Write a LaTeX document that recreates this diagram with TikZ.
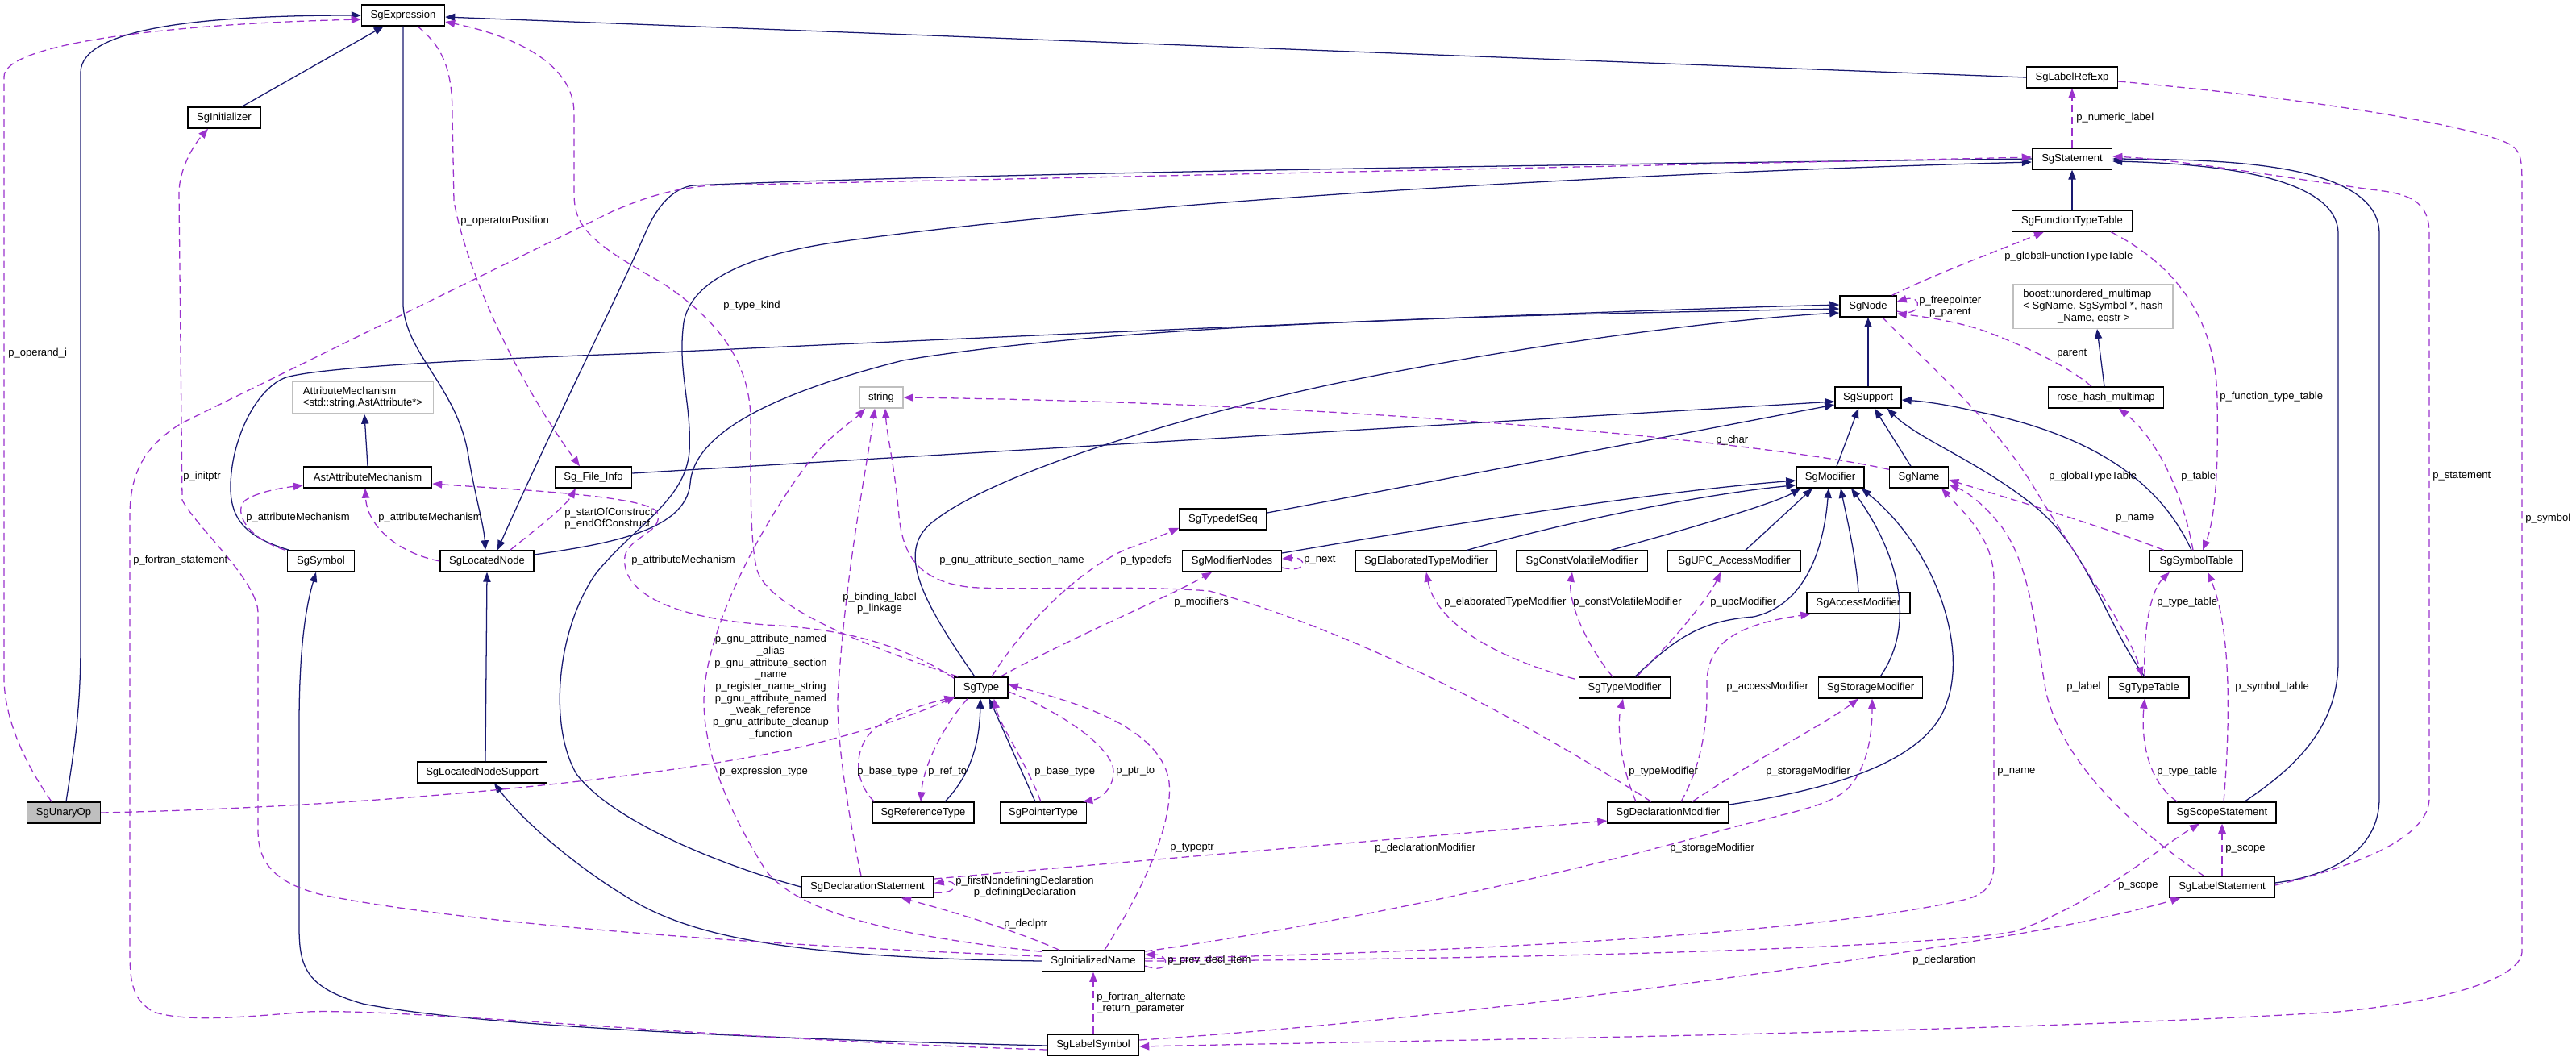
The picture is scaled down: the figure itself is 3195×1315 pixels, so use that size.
\documentclass[tikz,border=0pt]{standalone}
\usepackage{fontspec}
\setmainfont{Liberation Sans}
\usetikzlibrary{arrows.meta, calc}
\definecolor{navy}{HTML}{191970}
\definecolor{orchid}{HTML}{9A32CD}
\definecolor{boxgray}{HTML}{BFBFBF}
\newcommand\fnt{\fontsize{9.8pt}{11pt}\selectfont}

\begin{document}
\begin{tikzpicture}[x=0.75pt, y=-0.75pt,
  cls/.style={draw=black, fill=white, line width=1.1pt, minimum width=#1*0.75pt, minimum height=19.5pt, inner xsep=2pt, inner ysep=1pt, font=\fnt},
  ext/.style={cls=#1, draw=boxgray},
  focus/.style={cls=#1, fill=boxgray},
  inh/.style={navy, line width=0.95pt, -{Triangle[length=9pt, width=7pt]}},
  member/.style={orchid, line width=0.95pt, dash pattern=on 7pt off 4pt, -{Triangle[length=9pt, width=7pt]}},
  lbl/.style={font=\fnt, inner sep=0pt, anchor=west}]

\useasboundingbox (0,0) rectangle (3195,1315);

% classes
\node[focus=91] (unary) at (79,1008) {SgUnaryOp};
\node[cls=103] (expr) at (500,19) {SgExpression};
\node[cls=90] (init) at (278,146) {SgInitializer};
\node[ext=175, minimum height=30pt, align=left] (attrmech) at (450,493) {AttributeMechanism\\<std::string,AstAttribute*>};
\node[cls=159] (astattr) at (456,592) {AstAttributeMechanism};
\node[cls=95] (fileinfo) at (736,592) {Sg\_File\_Info};
\node[cls=83] (symbol) at (398,696) {SgSymbol};
\node[cls=116] (locnode) at (604,696) {SgLocatedNode};
\node[cls=161] (locsupp) at (598,958) {SgLocatedNodeSupport};
\node[ext=54] (string) at (1093,493) {string};
\node[cls=108] (typedefseq) at (1517,644) {SgTypedefSeq};
\node[cls=123] (modnodes) at (1528,696) {SgModifierNodes};
\node[cls=66] (type) at (1217,853) {SgType};
\node[cls=126] (reftype) at (1145,1008) {SgReferenceType};
\node[cls=107] (ptrtype) at (1294,1008) {SgPointerType};
\node[cls=164] (declstmt) at (1076,1100) {SgDeclarationStatement};
\node[cls=127] (initname) at (1356,1192) {SgInitializedName};
\node[cls=113] (labelsym) at (1356,1296) {SgLabelSymbol};
\node[cls=70] (sgnode) at (2317,380) {SgNode};
\node[cls=82] (support) at (2317,493) {SgSupport};
\node[cls=84] (modifier) at (2270,592) {SgModifier};
\node[cls=73] (name) at (2380,592) {SgName};
\node[cls=175] (elabmod) at (1769,696) {SgElaboratedTypeModifier};
\node[cls=163] (cvmod) at (1962,696) {SgConstVolatileModifier};
\node[cls=165] (upcmod) at (2151,696) {SgUPC\_AccessModifier};
\node[cls=128] (accmod) at (2305,748) {SgAccessModifier};
\node[cls=113] (typemod) at (2015,853) {SgTypeModifier};
\node[cls=129] (stormod) at (2320,853) {SgStorageModifier};
\node[cls=150] (declmod) at (2069,1008) {SgDeclarationModifier};
\node[cls=113] (labelref) at (2570,96) {SgLabelRefExp};
\node[cls=99] (stmt) at (2570,197) {SgStatement};
\node[cls=149] (functab) at (2570,274) {SgFunctionTypeTable};
\node[ext=198, minimum height=41pt, align=left] (boost) at (2596,380) {boost::unordered\_multimap\\< SgName, SgSymbol *, hash\\\hspace*{32pt}\_Name, eqstr >};
\node[cls=143] (rosehash) at (2612,493) {rose\_hash\_multimap};
\node[cls=115] (symtab) at (2724,696) {SgSymbolTable};
\node[cls=100] (typetab) at (2665,853) {SgTypeTable};
\node[cls=134] (scope) at (2756,1008) {SgScopeStatement};
\node[cls=130] (labelstmt) at (2756,1100) {SgLabelStatement};

% inheritance
\draw[inh] ($(unary.north)+(3,0)$) .. controls (92,930) and (100,880) .. (100,800) -- (100,90) .. controls (100,35) and (250,19) .. (expr.west);
\draw[inh] ($(init.north)+(22,0)$) -- ($(expr.south west)+(28,0)$);
\draw[inh] (expr.south) -- (500,380) .. controls (505,440) and (565,480) .. (580,560) .. controls (590,620) and (600,650) .. ($(locnode.north)+(-2,0)$);
\draw[inh] (stmt.west) .. controls (2000,203) and (1200,215) .. (860,230) .. controls (835,233) and (815,255) .. (800,290) .. controls (760,380) and (680,540) .. ($(locnode.north)+(13,0)$);
\draw[inh] (labelref.west) -- ($(expr.east)+(0,2)$);
\draw[inh] (functab.north) -- (stmt.south);
\draw[inh] (declstmt.west) .. controls (900,1075) and (760,1020) .. (715,960) .. controls (680,900) and (690,780) .. (740,710) .. controls (790,650) and (850,620) .. (855,560) .. controls (858,500) and (840,460) .. (848,400) .. controls (855,360) and (900,320) .. (1040,300) .. controls (1400,250) and (2000,215) .. ($(stmt.west)+(0,4)$);
\draw[inh] ($(locnode.east)+(0,-8)$) .. controls (750,675) and (850,660) .. (856,600) .. controls (860,540) and (950,490) .. (1120,447) .. controls (1400,400) and (1900,390) .. ($(sgnode.west)+(0,3)$);
\draw[inh] ($(symbol.north west)+(3,0)$) .. controls (300,665) and (285,640) .. (286,600) .. controls (288,540) and (320,480) .. (355,468) .. controls (400,455) and (600,445) .. (800,438) .. controls (1400,410) and (2000,385) .. ($(sgnode.west)+(0,-2)$);
\draw[inh] ($(type.north)+(-8,0)$) .. controls (1140,740) and (1110,680) .. (1160,645) .. controls (1230,590) and (1450,520) .. (1650,477) .. controls (1900,425) and (2150,395) .. ($(sgnode.west)+(0,8)$);
\draw[inh] ($(fileinfo.east)+(0,-5)$) -- ($(support.west)+(0,5)$);
\draw[inh] ($(typedefseq.east)+(0,-8)$) -- ($(support.west)+(0,9)$);
\draw[inh] ($(modnodes.east)+(0,-10)$) .. controls (1800,650) and (2050,610) .. ($(modifier.west)+(0,4)$);
\draw[inh] ($(elabmod.north)+(51,0)$) .. controls (1950,645) and (2120,612) .. ($(modifier.south west)+(0,-4)$);
\draw[inh] ($(cvmod.north)+(36,0)$) .. controls (2080,660) and (2200,625) .. ($(modifier.south west)+(6,0)$);
\draw[inh] ($(upcmod.north)+(14,0)$) -- ($(modifier.south)+(-22,0)$);
\draw[inh] (accmod.north) .. controls (2302,690) and (2290,640) .. ($(modifier.south)+(13,0)$);
\draw[inh] ($(typemod.north)+(13,0)$) .. controls (2080,790) and (2110,770) .. (2175,765) .. controls (2240,750) and (2262,680) .. ($(modifier.south)+(-2,0)$);
\draw[inh] ($(stormod.north)+(12,0)$) .. controls (2380,770) and (2350,680) .. ($(modifier.south)+(26,0)$);
\draw[inh] ($(declmod.east)+(0,-10)$) .. controls (2300,975) and (2395,935) .. (2415,870) .. controls (2440,800) and (2400,680) .. ($(modifier.south east)+(-4,0)$);
\draw[inh] ($(modifier.north)+(8,0)$) -- ($(support.south)+(-12,0)$);
\draw[inh] ($(name.north)+(-10,0)$) -- ($(support.south)+(8,0)$);
\draw[inh] ($(symtab.north)+(-6,0)$) .. controls (2680,600) and (2600,540) .. (2450,510) .. controls (2420,503) and (2390,498) .. ($(support.east)+(0,3)$);
\draw[inh] ($(typetab.north)+(-5,0)$) .. controls (2610,770) and (2590,680) .. (2520,625) .. controls (2450,570) and (2380,545) .. ($(support.south east)+(-18,0)$);
\draw[inh] (support.north) -- (sgnode.south);
\draw[inh] (astattr.north) -- ($(attrmech.south)+(2,0)$);
\draw[inh] ($(rosehash.north)+(-2,0)$) -- ($(boost.south)+(5,0)$);
\draw[inh] ($(reftype.north)+(27,0)$) .. controls (1205,960) and (1215,920) .. ($(type.south)+(-1,0)$);
\draw[inh] ($(ptrtype.north)+(-10,0)$) -- ($(type.south)+(10,0)$);
\draw[inh] ($(labelsym.west)+(0,1)$) .. controls (1000,1290) and (600,1275) .. (450,1245) .. controls (380,1225) and (371,1200) .. (371,1150) -- (371,900) .. controls (371,800) and (380,750) .. ($(symbol.south)+(-6,0)$);
\draw[inh] ($(locsupp.north)+(4,0)$) -- (locnode.south);
\draw[inh] (initname.west) .. controls (1000,1188) and (870,1165) .. (790,1120) .. controls (720,1080) and (650,1020) .. ($(locsupp.south)+(15,0)$);
\draw[inh] ($(scope.north east)+(-40,0)$) .. controls (2850,950) and (2900,900) .. (2900,820) -- (2900,290) .. controls (2900,220) and (2750,203) .. ($(stmt.east)+(0,3)$);
\draw[inh] ($(labelstmt.east)+(0,-5)$) .. controls (2900,1085) and (2951,1050) .. (2951,990) -- (2951,290) .. controls (2951,200) and (2750,198) .. (stmt.east);

% members
\draw[member] ($(unary.north)+(-15,0)$) .. controls (40,960) and (5,900) .. (5,840) -- (5,95) .. controls (5,55) and (200,30) .. ($(expr.west)+(0,5)$);
\draw[member] (unary.east) .. controls (500,1000) and (850,960) .. (1000,925) .. controls (1100,900) and (1150,880) .. ($(type.south west)+(2,-3)$);
\draw[member] ($(expr.south)+(18,0)$) .. controls (545,55) and (561,80) .. (561,140) -- (563,250) .. controls (580,340) and (640,470) .. ($(fileinfo.north)+(-17,0)$);
\draw[member] ($(locnode.north east)+(-30,0)$) .. controls (660,660) and (700,630) .. ($(fileinfo.south)+(-22,0)$);
\draw[member] (locnode.west) .. controls (490,685) and (455,650) .. ($(astattr.south)+(-3,0)$);
\draw[member] ($(symbol.north west)+(-2,0)$) .. controls (300,665) and (290,630) .. (305,620) .. controls (320,610) and (350,605) .. ($(astattr.west)+(0,10)$);
\draw[member] ($(type.north west)+(0,2)$) .. controls (1120,800) and (1050,780) .. (950,775) .. controls (820,765) and (770,730) .. (775,690) .. controls (780,665) and (825,660) .. (815,635) .. controls (800,615) and (650,608) .. ($(astattr.east)+(0,8)$);
\draw[member] ($(initname.west)+(0,-6)$) .. controls (1000,1175) and (600,1150) .. (400,1110) .. controls (340,1095) and (320,1070) .. (320,1030) -- (320,760) .. controls (320,720) and (240,650) .. (226,620) -- (222,240) .. controls (222,210) and (240,180) .. ($(init.south)+(-20,0)$);
\draw[member] ($(labelsym.west)+(0,6)$) .. controls (900,1290) and (500,1250) .. (380,1255) .. controls (300,1262) and (230,1268) .. (190,1255) .. controls (165,1240) and (161,1220) .. (161,1180) -- (161,640) .. controls (161,580) and (185,550) .. (225,525) -- (760,262) .. controls (800,245) and (830,235) .. (880,230) -- ($(stmt.west)+(0,-2)$);
\draw[member] ($(type.north west)+(5,0)$) .. controls (1100,810) and (960,760) .. (940,710) .. controls (930,680) and (931,600) .. (931,520) .. controls (930,440) and (880,390) .. (820,350) .. controls (730,300) and (712,280) .. (712,240) -- (712,140) .. controls (712,80) and (640,45) .. ($(expr.east)+(0,8)$);
\draw[member] ($(sgnode.east)+(0,6)$) .. controls (2385,395) and (2385,365) .. ($(sgnode.east)+(0,-6)$);
\draw[member] ($(sgnode.north east)+(-6,0)$) .. controls (2400,340) and (2480,310) .. ($(functab.south)+(-35,0)$);
\draw[member] ($(sgnode.south east)+(-18,0)$) .. controls (2400,460) and (2470,520) .. (2520,600) .. controls (2580,700) and (2640,780) .. ($(typetab.north)+(-8,0)$);
\draw[member] ($(rosehash.north)+(-18,0)$) .. controls (2560,450) and (2500,425) .. (2460,410) .. controls (2420,397) and (2380,392) .. ($(sgnode.east)+(0,9)$);
\draw[member] ($(symtab.north)+(-4,0)$) .. controls (2705,600) and (2670,540) .. ($(rosehash.south)+(16,0)$);
\draw[member] ($(functab.south east)+(-27,0)$) .. controls (2720,340) and (2750,420) .. (2750,500) .. controls (2752,600) and (2745,650) .. ($(symtab.north)+(8,0)$);
\draw[member] ($(typetab.north)+(-5,0)$) .. controls (2658,770) and (2670,730) .. ($(symtab.south west)+(25,0)$);
\draw[member] ($(scope.north)+(2,0)$) .. controls (2766,900) and (2768,780) .. ($(symtab.south)+(14,0)$);
\draw[member] ($(scope.north west)+(12,0)$) .. controls (2665,970) and (2655,920) .. ($(typetab.south)+(-5,0)$);
\draw[member] ($(symtab.north west)+(18,0)$) .. controls (2600,650) and (2480,615) .. ($(name.east)+(0,3)$);
\draw[member] ($(name.north west)+(0,4)$) .. controls (2200,550) and (1700,500) .. (string.east);
\draw[member] ($(declmod.north)+(-21,0)$) .. controls (1900,900) and (1700,790) .. (1500,733) .. controls (1400,725) and (1250,733) .. (1200,728) .. controls (1140,720) and (1120,690) .. (1115,640) .. controls (1110,580) and (1100,540) .. ($(string.south)+(5,0)$);
\draw[member] ($(initname.north west)+(0,2)$) .. controls (1100,1160) and (990,1130) .. (950,1080) .. controls (900,1000) and (873,930) .. (873,870) .. controls (873,780) and (950,640) .. (1008,567) .. controls (1030,540) and (1060,520) .. ($(string.south)+(-20,0)$);
\draw[member] ($(declstmt.north)+(-8,0)$) .. controls (1050,1000) and (1035,900) .. (1040,850) .. controls (1050,700) and (1075,580) .. ($(string.south)+(-8,0)$);
\draw[member] ($(type.north)+(13,0)$) .. controls (1280,760) and (1350,700) .. (1400,680) .. controls (1430,670) and (1450,660) .. ($(typedefseq.south west)+(0,-3)$);
\draw[member] ($(type.north east)+(-10,0)$) .. controls (1330,790) and (1450,740) .. ($(modnodes.south)+(-25,0)$);
\draw[member] ($(modnodes.east)+(0,8)$) .. controls (1622,712) and (1622,690) .. ($(modnodes.east)+(0,-3)$);
\draw[member] ($(reftype.north west)+(3,0)$) .. controls (1055,965) and (1060,920) .. (1090,900) .. controls (1120,880) and (1160,870) .. ($(type.south west)+(0,-2)$);
\draw[member] ($(type.south)+(-17,0)$) .. controls (1170,900) and (1145,950) .. ($(reftype.north)+(-3,0)$);
\draw[member] ($(ptrtype.north)+(-3,0)$) .. controls (1270,940) and (1240,900) .. ($(type.south east)+(-18,0)$);
\draw[member] ($(type.east)+(0,5)$) .. controls (1310,880) and (1370,920) .. (1380,950) .. controls (1385,970) and (1370,990) .. ($(ptrtype.north east)+(-5,0)$);
\draw[member] ($(initname.north)+(14,0)$) .. controls (1420,1100) and (1455,1020) .. (1450,970) .. controls (1440,900) and (1330,870) .. ($(type.east)+(0,-4)$);
\draw[member] ($(declstmt.east)+(0,7)$) .. controls (1190,1110) and (1190,1090) .. ($(declstmt.east)+(0,-4)$);
\draw[member] ($(initname.north west)+(22,0)$) .. controls (1250,1150) and (1160,1125) .. ($(declstmt.south)+(42,0)$);
\draw[member] ($(initname.east)+(0,6)$) .. controls (1452,1210) and (1452,1184) .. ($(initname.east)+(0,-8)$);
\draw[member] (labelsym.north) -- (initname.south);
\draw[member] ($(declmod.north)+(-40,0)$) .. controls (2010,950) and (2005,900) .. ($(typemod.south)+(-2,0)$);
\draw[member] ($(declmod.north)+(16,0)$) .. controls (2110,950) and (2118,900) .. (2117,850) .. controls (2116,800) and (2150,775) .. ($(accmod.south west)+(5,0)$);
\draw[member] ($(declmod.north)+(30,0)$) .. controls (2180,940) and (2260,900) .. ($(stormod.south)+(-15,0)$);
\draw[member] ($(initname.east)+(0,-12)$) .. controls (1700,1140) and (1950,1080) .. (2100,1040) .. controls (2200,1010) and (2260,1005) .. (2290,980) .. controls (2320,950) and (2322,900) .. ($(stormod.south)+(2,0)$);
\draw[member] ($(declstmt.east)+(0,-10)$) .. controls (1500,1060) and (1800,1035) .. ($(declmod.west)+(0,10)$);
\draw[member] ($(typemod.north west)+(-4,3)$) .. controls (1850,815) and (1780,770) .. (elabmod.south);
\draw[member] ($(typemod.north)+(-15,0)$) .. controls (1960,790) and (1945,740) .. ($(cvmod.south)+(-12,0)$);
\draw[member] ($(typemod.north)+(15,0)$) .. controls (2080,790) and (2120,740) .. ($(upcmod.south)+(-17,0)$);
\draw[member] ($(initname.east)+(0,-3)$) .. controls (1900,1180) and (2300,1150) .. (2440,1115) .. controls (2465,1108) and (2473,1095) .. (2473,1070) -- (2473,720) .. controls (2473,670) and (2440,640) .. ($(name.south)+(28,0)$);
\draw[member] (initname.east) .. controls (1900,1190) and (2400,1175) .. (2500,1155) .. controls (2600,1120) and (2680,1050) .. ($(scope.south)+(-28,0)$);
\draw[member] ($(labelsym.east)+(0,-6)$) .. controls (1800,1265) and (2250,1200) .. (2450,1167) .. controls (2560,1150) and (2650,1130) .. ($(labelstmt.south west)+(14,0)$);
\draw[member] ($(labelref.east)+(0,5)$) .. controls (2900,125) and (3080,160) .. (3115,180) .. controls (3128,190) and (3128,200) .. (3128,240) -- (3128,1180) .. controls (3128,1210) and (3050,1240) .. (2900,1255) .. controls (2500,1280) and (1800,1290) .. ($(labelsym.east)+(0,2)$);
\draw[member] ($(labelstmt.east)+(0,-2)$) .. controls (2920,1075) and (3013,1040) .. (3013,990) -- (3013,290) .. controls (3013,250) and (2990,240) .. (2940,235) .. controls (2800,215) and (2700,198) .. ($(stmt.east)+(0,-3)$);
\draw[member] (stmt.north) -- (labelref.south);
\draw[member] (labelstmt.north) -- (scope.south);
\draw[member] ($(labelstmt.north west)+(43,0)$) .. controls (2650,1030) and (2560,950) .. (2538,860) .. controls (2525,790) and (2520,700) .. (2480,650) .. controls (2460,625) and (2440,610) .. ($(name.east)+(0,9)$);

% edge labels
\node[lbl] (topd) at (10,438) {p\_operand\_i};
\node[lbl] (topp) at (571,274) {p\_operatorPosition};
\node[lbl] (tkind) at (897,379) {p\_type\_kind};
\node[lbl] (tinit) at (227,591) {p\_initptr};
\node[lbl] (tfort) at (165,695) {p\_fortran\_statement};
\node[lbl] (tam1) at (305,642) {p\_attributeMechanism};
\node[lbl] (tam2) at (469,642) {p\_attributeMechanism};
\node[lbl] (tam3) at (783,695) {p\_attributeMechanism};
\node[lbl, align=left] (tcons) at (700,643) {p\_startOfConstruct\\p\_endOfConstruct};
\node[lbl] (tsect) at (1165,695) {p\_gnu\_attribute\_section\_name};
\node[lbl] (ttdef) at (1389,695) {p\_typedefs};
\node[lbl, align=center] (tbind) at (1045,748) {p\_binding\_label\\p\_linkage};
\node[lbl] (tmods) at (1456,747) {p\_modifiers};
\node[lbl, align=center, anchor=north] (tgnu) at (956,787) {p\_gnu\_attribute\_named\\\_alias\\p\_gnu\_attribute\_section\\\_name\\p\_register\_name\_string\\p\_gnu\_attribute\_named\\\_weak\_reference\\p\_gnu\_attribute\_cleanup\\\_function};
\node[lbl] (texpt) at (892,957) {p\_expression\_type};
\node[lbl] (tbas1) at (1063,957) {p\_base\_type};
\node[lbl] (tref) at (1151,957) {p\_ref\_to};
\node[lbl] (tbas2) at (1283,957) {p\_base\_type};
\node[lbl] (tptr) at (1384,957) {p\_ptr\_to};
\node[lbl] (ttptr) at (1451,1052) {p\_typeptr};
\node[lbl, align=center] (tdecl) at (1185,1100) {p\_firstNondefiningDeclaration\\p\_definingDeclaration};
\node[lbl] (tdptr) at (1245,1146) {p\_declptr};
\node[lbl] (tprev) at (1448,1191) {p\_prev\_decl\_item};
\node[lbl, align=left] (talt) at (1360,1244) {p\_fortran\_alternate\\\_return\_parameter};
\node[lbl, align=center] (tfree) at (2380,380) {p\_freepointer\\p\_parent};
\node[lbl] (tchar) at (2128,546) {p\_char};
\node[lbl] (telab) at (1791,747) {p\_elaboratedTypeModifier};
\node[lbl] (tcv) at (1951,747) {p\_constVolatileModifier};
\node[lbl] (tupc) at (2121,747) {p\_upcModifier};
\node[lbl] (tacc) at (2141,852) {p\_accessModifier};
\node[lbl] (ttmod) at (2020,957) {p\_typeModifier};
\node[lbl] (tsto1) at (2190,957) {p\_storageModifier};
\node[lbl] (tdmod) at (1705,1052) {p\_declarationModifier};
\node[lbl] (tsto2) at (2071,1052) {p\_storageModifier};
\node[lbl] (tdcl) at (2372,1191) {p\_declaration};
\node[lbl] (tnam1) at (2477,957) {p\_name};
\node[lbl] (tnum) at (2575,146) {p\_numeric\_label};
\node[lbl] (tgft) at (2486,318) {p\_globalFunctionTypeTable};
\node[lbl] (tpar) at (2551,439) {parent};
\node[lbl] (tftt) at (2753,492) {p\_function\_type\_table};
\node[lbl] (tgtt) at (2541,591) {p\_globalTypeTable};
\node[lbl] (ttab) at (2705,591) {p\_table};
\node[lbl] (tnam2) at (2624,643) {p\_name};
\node[lbl] (tstm) at (3017,591) {p\_statement};
\node[lbl] (tsym) at (3132,643) {p\_symbol};
\node[lbl] (ttt1) at (2675,747) {p\_type\_table};
\node[lbl] (tlab) at (2563,852) {p\_label};
\node[lbl] (tst) at (2772,852) {p\_symbol\_table};
\node[lbl] (ttt2) at (2675,957) {p\_type\_table};
\node[lbl] (tsc1) at (2760,1053) {p\_scope};
\node[lbl] (tsc2) at (2627,1099) {p\_scope};
\node[lbl] (tnext) at (1617,695) {p\_next};
\end{tikzpicture}
\end{document}
